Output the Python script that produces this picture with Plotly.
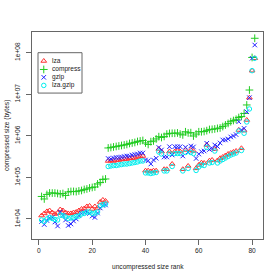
import plotly.graph_objects as go

rank = list(range(1, 82))

series_names = ["lza", "compress", "gzip", "lza.gzip"]

lza = [1.21e4, 1.36e4, 1.52e4, 1.60e4, 1.43e4, 1.32e4, 1.39e4, 1.69e4, 1.60e4, 1.43e4,
       1.36e4, 1.36e4, 1.43e4, 1.47e4, 1.60e4, 1.74e4, 1.79e4, 2.00e4, 2.06e4, 1.74e4,
       2.00e4, 1.84e4, 2.56e4, 2.87e4, 2.71e4,
       2.48e5, 2.55e5, 2.48e5, 2.62e5, 2.62e5, 2.69e5, 2.77e5, 2.77e5, 2.85e5, 2.93e5,
       2.93e5, 3.09e5, 3.18e5, 3.27e5,
       1.45e5, 1.45e5, 1.39e5, 1.45e5, 1.45e5, 4.81e5, 4.19e5, 1.57e5, 1.57e5, 4.19e5,
       2.10e5, 4.19e5, 4.31e5, 4.19e5, 1.57e5, 4.56e5, 1.88e5, 4.56e5, 4.31e5, 1.65e5,
       1.99e5, 2.26e5, 2.22e5, 6.02e5, 2.52e5, 2.62e5, 4.81e5, 2.55e5, 2.88e5, 3.09e5,
       3.36e5, 3.65e5, 3.86e5, 4.08e5, 4.31e5, 1.38e6, 5.01e5, 1.33e6, 2.40e6, 8.23e6,
       3.68e7, 7.30e7]

compress = [3.48e4, 3.03e4, 3.89e4, 4.22e4, 4.20e4, 4.20e4, 4.11e4, 3.99e4, 4.10e4, 3.68e4,
            4.46e4, 4.59e4, 4.60e4, 4.55e4, 4.72e4, 4.85e4, 5.13e4, 5.27e4, 5.57e4, 5.73e4,
            5.89e4, 6.95e4, 7.55e4, 8.92e4, 9.17e4,
            5.10e5, 5.24e5, 5.39e5, 5.54e5, 5.69e5, 5.85e5, 6.02e5, 6.19e5, 6.54e5, 6.72e5,
            6.91e5, 7.30e5, 7.51e5, 7.72e5,
            6.72e5, 6.19e5, 7.23e5, 7.51e5, 8.40e5, 9.53e5, 9.10e5, 9.65e5, 1.10e6, 1.14e6,
            1.15e6, 1.15e6, 1.17e6, 1.10e6, 1.05e6, 1.25e6, 1.17e6, 1.19e6, 9.89e5, 1.10e6,
            1.25e6, 1.25e6, 1.27e6, 1.33e6, 1.42e6, 1.43e6, 1.46e6, 1.51e6, 1.54e6, 1.67e6,
            1.82e6, 1.98e6, 2.18e6, 2.33e6, 2.49e6, 2.75e6, 2.91e6, 3.44e6, 5.51e6, 1.26e7,
            7.63e7, 2.21e8]

gzip = [8.71e3, 7.37e3, 9.20e3, 1.06e4, 1.09e4, 8.47e3, 6.78e3, 1.47e4, 1.21e4, 9.46e3,
        6.98e3, 7.58e3, 8.95e3, 1.00e4, 1.21e4, 1.36e4, 1.43e4, 1.47e4, 1.36e4, 1.18e4,
        1.09e4, 1.39e4, 1.84e4, 2.11e4, 2.17e4,
        2.85e5, 2.77e5, 2.93e5, 3.01e5, 3.01e5, 3.09e5, 3.18e5, 3.27e5, 3.27e5, 3.45e5,
        3.55e5, 3.65e5, 3.86e5, 3.86e5,
        2.62e5, 2.52e5, 2.10e5, 2.62e5, 2.88e5, 5.24e5, 4.56e5, 3.09e5, 3.09e5, 5.47e5,
        3.45e5, 5.47e5, 5.47e5, 5.47e5, 3.27e5, 5.30e5, 4.08e5, 5.69e5, 5.39e5, 2.85e5,
        3.65e5, 4.15e5, 4.31e5, 6.61e5, 4.68e5, 4.95e5, 6.02e5, 5.54e5, 6.72e5, 7.94e5,
        7.94e5, 8.40e5, 9.37e5, 9.89e5, 1.07e6, 2.18e6, 1.38e6, 1.51e6, 3.79e6, 8.23e6,
        7.30e7, 1.52e8]

lza_gzip = [9.46e3, 8.71e3, 1.00e4, 1.09e4, 1.03e4, 9.72e3, 9.46e3, 1.25e4, 1.21e4, 1.12e4,
            1.03e4, 1.06e4, 1.09e4, 1.15e4, 1.18e4, 1.32e4, 1.36e4, 1.47e4, 1.47e4, 1.36e4,
            1.39e4, 1.47e4, 2.06e4, 2.23e4, 2.30e4,
            1.83e5, 1.88e5, 1.93e5, 1.93e5, 1.99e5, 2.04e5, 2.10e5, 2.10e5, 2.16e5, 2.22e5,
            2.28e5, 2.35e5, 2.48e5, 2.48e5,
            1.28e5, 1.28e5, 1.24e5, 1.28e5, 1.31e5, 4.08e5, 3.65e5, 1.43e5, 1.43e5, 3.75e5,
            1.83e5, 3.75e5, 3.75e5, 3.75e5, 1.43e5, 3.97e5, 1.64e5, 3.97e5, 3.75e5, 1.47e5,
            1.78e5, 1.99e5, 1.93e5, 5.24e5, 2.22e5, 2.28e5, 4.31e5, 2.22e5, 2.48e5, 2.69e5,
            2.93e5, 3.18e5, 3.45e5, 3.65e5, 3.86e5, 1.30e6, 4.43e5, 1.15e6, 2.15e6, 4.41e6,
            3.68e7, 7.30e7]

x_ticks = [0, 20, 40, 60, 80]
y_ticks = [1e4, 1e5, 1e6, 1e7, 1e8]
y_tick_labels = ["1e+04", "1e+05", "1e+06", "1e+07", "1e+08"]

colors = ["#FF3030", "#22CC22", "#2020FF", "#00EEEE"]
symbols = ["triangle-up-open", "cross-thin-open", "x-thin-open", "circle-open"]
sizes = [5, 5.5, 4.5, 4.5]
values = [lza, compress, gzip, lza_gzip]

FONT = "Liberation Sans, Arial, Helvetica, sans-serif"
fig = go.Figure()
for name, vals, c, s, sz in zip(series_names, values, colors, symbols, sizes):
    fig.add_trace(go.Scatter(
        x=rank, y=vals, mode="markers", name=name, showlegend=False,
        marker=dict(symbol=s, size=sz, color=c, line=dict(color=c, width=1)),
    ))

# manual legend (R-style compact box)
leg_y = [0.860, 0.819, 0.781, 0.742]
for name, c, s, sz, ly in zip(series_names, colors, symbols, sizes, leg_y):
    fig.add_trace(go.Scatter(
        x=[0.051], y=[ly], xaxis="x2", yaxis="y2", mode="markers", showlegend=False,
        marker=dict(symbol=s, size=sz, color=c, line=dict(color=c, width=1)),
        hoverinfo="skip",
    ))
    fig.add_annotation(x=0.079, y=ly, xref="paper", yref="paper", text=name,
                       showarrow=False, xanchor="left", yanchor="middle",
                       font=dict(family=FONT, size=6.6, color="#222"))
fig.add_shape(type="rect", xref="paper", yref="paper", x0=0.026, x1=0.2165,
              y0=0.705, y1=0.900, line=dict(color="#666", width=1),
              fillcolor="white", layer="below")

fig.add_annotation(x=0.5, y=-0.135, xref="paper", yref="paper",
                   text="uncompressed size rank", showarrow=False,
                   xanchor="center", yanchor="middle",
                   font=dict(family=FONT, size=6.6, color="#222"))
fig.add_annotation(x=-0.11, y=0.5, xref="paper", yref="paper",
                   text="compressed size (bytes)", showarrow=False, textangle=-90,
                   xanchor="center", yanchor="middle",
                   font=dict(family=FONT, size=6.6, color="#222"))

fig.update_layout(
    width=280, height=280,
    margin=dict(l=32, r=17, t=32, b=41),
    paper_bgcolor="white", plot_bgcolor="white",
    font=dict(family=FONT, size=6.6, color="#222"),
    showlegend=False,
    xaxis=dict(range=[-2.6, 84.1], tickvals=x_ticks, ticks="outside", ticklen=5,
               tickcolor="#666", showline=True, linecolor="#666", linewidth=1,
               mirror=True, showgrid=False, zeroline=False, automargin=False),
    yaxis=dict(type="log", range=[3.519, 8.495], tickvals=y_ticks,
               ticktext=y_tick_labels, tickangle=-90, ticks="outside", ticklen=5,
               ticklabelstandoff=3,
               tickcolor="#666", showline=True, linecolor="#666", linewidth=1,
               mirror=True, showgrid=False, zeroline=False, automargin=False),
    xaxis2=dict(overlaying="x", range=[0, 1], visible=False),
    yaxis2=dict(overlaying="y", range=[0, 1], visible=False),
)

# remove the browser's default 8px body margin so the 280x280 figure fills the window
fig.write_html("out.html",
               config={"displayModeBar": False, "staticPlot": True},
               post_script="document.body.style.margin='0';document.body.style.overflow='hidden';")
